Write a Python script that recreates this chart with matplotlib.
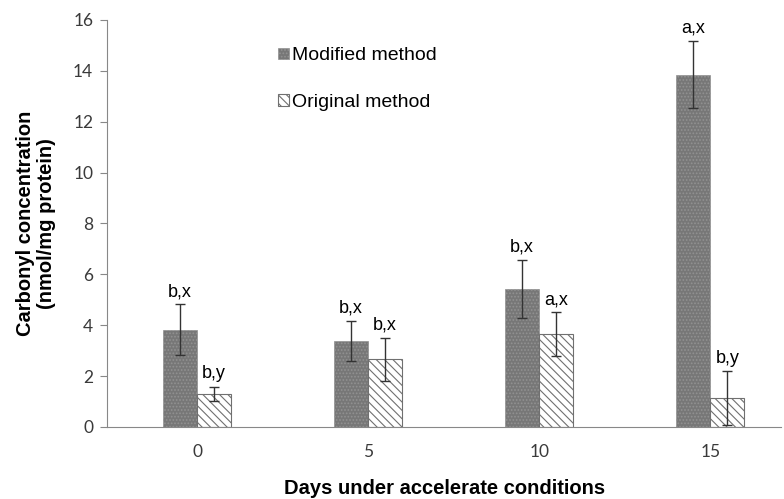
import numpy as np
import matplotlib.pyplot as plt

days = ['0', '5', '10', '15']
modified = [3.82, 3.38, 5.42, 13.85]
modified_err = [1.0, 0.8, 1.14, 1.33]
original = [1.3, 2.66, 3.65, 1.14]
original_err = [0.29, 0.84, 0.86, 1.05]
modified_tags = ['b,x', 'b,x', 'b,x', 'a,x']
original_tags = ['b,y', 'b,x', 'a,x', 'b,y']

plt.rcParams['hatch.linewidth'] = 0.8
plt.rcParams['hatch.color'] = '#404040'

fig = plt.figure(figsize=(7.84, 4.99), dpi=100)
ax = fig.add_axes([0.1365, 0.1443, 0.86, 0.816])

x = np.arange(len(days))
w = 0.2

b1 = ax.bar(x - w / 2, modified, w, color='#777777', edgecolor='#929292',
            hatch='.....', linewidth=0.5, label='Modified method',
            yerr=modified_err, capsize=3.5,
            error_kw=dict(ecolor='#333333', elinewidth=1.0, capthick=1.0))
b2 = ax.bar(x + w / 2, original, w, color='white', edgecolor='#707070',
            hatch='\\\\\\\\', linewidth=0.8, label='Original method',
            yerr=original_err, capsize=3.5,
            error_kw=dict(ecolor='#333333', elinewidth=1.0, capthick=1.0))

for i in range(len(days)):
    ax.annotate(modified_tags[i], (x[i] - w / 2, modified[i] + modified_err[i]),
                xytext=(0, 3), textcoords='offset points', ha='center', va='bottom',
                fontsize=13, family='Liberation Sans')
    ax.annotate(original_tags[i], (x[i] + w / 2, original[i] + original_err[i]),
                xytext=(0, 3), textcoords='offset points', ha='center', va='bottom',
                fontsize=13, family='Liberation Sans')

ax.set_xlim(-0.526, 3.415)
ax.set_ylim(0, 16)
ax.set_yticks(np.arange(0, 17, 2))
ax.set_xticks(x)
ax.set_xticklabels(days)
for lab in ax.get_xticklabels() + ax.get_yticklabels():
    lab.set_family('Lato')
    lab.set_fontsize(12.5)
    lab.set_color('#3a3a3a')

ax.tick_params(axis='x', length=0, pad=12)
ax.tick_params(axis='y', length=5, color='#888888', direction='out', pad=5)
ax.spines['top'].set_visible(False)
ax.spines['right'].set_visible(False)
ax.spines['left'].set_color('#888888')
ax.spines['bottom'].set_color('#888888')

ax.set_ylabel('Carbonyl concentration\n(nmol/mg protein)', fontsize=14.5,
              fontweight='bold', family='Liberation Sans', labelpad=12,
              linespacing=1.15)
ax.set_xlabel('Days under accelerate conditions', fontsize=14.5,
              fontweight='bold', family='Liberation Sans', labelpad=14)

ax.legend(loc='upper left', bbox_to_anchor=(0.228, 0.975), frameon=False,
          handlelength=0.55, handleheight=0.55, handletextpad=0.15,
          labelspacing=1.5, prop={'family': 'Liberation Sans', 'size': 14})

fig.savefig('out.png', dpi=100)
